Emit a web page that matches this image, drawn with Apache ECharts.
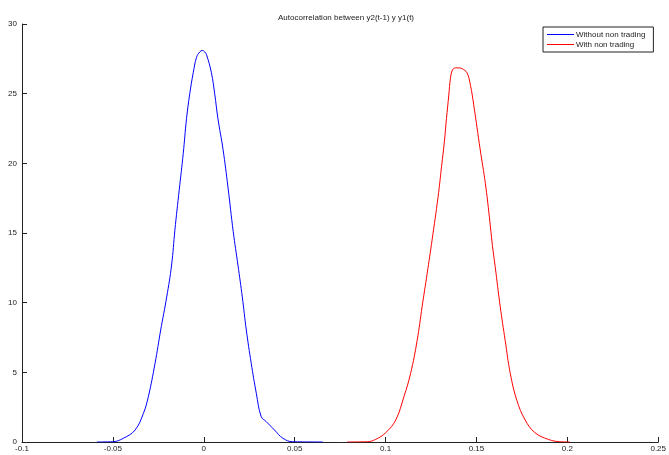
<!DOCTYPE html>
<html>
<head>
<meta charset="utf-8">
<script src="https://cdn.jsdelivr.net/npm/echarts@6/dist/echarts.min.js"></script>
<style>
html,body{margin:0;padding:0;background:#fff;}
#chart{width:669px;height:455px;}
</style>
</head>
<body>
<div id="chart"></div>
<script>
var titleText = 'Autocorrelation between y2(t-1) y y1(t)';
var seriesNames = ['Without non trading', 'With non trading'];
var seriesColors = ['#0000FF', '#FF0000'];

var blueX = [-0.0588, -0.05, -0.0442, -0.0378, -0.0332, -0.0305, -0.0268, -0.0237, -0.0204, -0.0177, -0.0159, -0.0135, -0.0113, -0.0095, -0.0077, -0.0058, -0.004, -0.0022, -0.0008, 0.0005, 0.0015, 0.0042, 0.006, 0.0078, 0.0106, 0.0133, 0.0162, 0.0188, 0.0212, 0.0234, 0.0261, 0.0289, 0.0316, 0.0344, 0.0389, 0.0435, 0.0489, 0.0654];
var blueY = [0, 0.02, 0.27, 0.86, 2.06, 3.25, 5.65, 8.04, 10.4, 12.7, 15.2, 18.1, 20.7, 23.2, 25.0, 26.5, 27.6, 28.0, 28.1, 28.0, 27.8, 26.5, 25.0, 23.2, 21.0, 18.3, 15.1, 12.7, 10.4, 8.04, 5.65, 3.5, 1.82, 1.46, 0.86, 0.27, 0.02, 0];

var redX = [0.079, 0.09, 0.0946, 0.1001, 0.1056, 0.1101, 0.1138, 0.1174, 0.1201, 0.1229, 0.1256, 0.1289, 0.1308, 0.1324, 0.1335, 0.1348, 0.1357, 0.1368, 0.1385, 0.1405, 0.142, 0.1448, 0.1467, 0.1485, 0.1521, 0.1549, 0.1571, 0.1588, 0.1603, 0.1631, 0.1658, 0.1686, 0.1722, 0.1768, 0.1822, 0.1895, 0.1959, 0.2014];
var redY = [0, 0.02, 0.19, 0.67, 1.58, 3.25, 4.93, 7.3, 9.7, 12.1, 14.5, 17.6, 19.76, 21.6, 23.2, 24.9, 26.1, 26.7, 26.85, 26.85, 26.8, 26.5, 25.6, 24.2, 20.96, 18.57, 16.17, 14.1, 12.6, 9.7, 7.3, 4.93, 3.0, 1.58, 0.67, 0.19, 0.02, 0];

function pairs(xs, ys) { return xs.map(function (x, i) { return [x, ys[i]]; }); }

var FONT = '"Liberation Sans", Arial, sans-serif';
var chart = echarts.init(document.getElementById('chart'), null, {renderer: 'canvas'});
chart.setOption({
  animation: false,
  backgroundColor: '#fff',
  title: {
    text: titleText,
    left: 341, top: 9, textAlign: 'center',
    textStyle: {fontFamily: FONT, fontSize: 8, fontWeight: 'normal', color: '#222'}
  },
  legend: {
    orient: 'vertical',
    left: 543, top: 27,
    width: 105,
    padding: [3, 8, 3, 4],
    itemGap: 1,
    icon: 'rect',
    itemWidth: 27, itemHeight: 1,
    borderColor: '#222', borderWidth: 1,
    backgroundColor: '#fff',
    textStyle: {fontFamily: FONT, fontSize: 8, color: '#222', padding: [0, 0, 0, -3], lineHeight: 9},
    data: seriesNames.map(function (n, i) {
      return {name: n, itemStyle: {color: seriesColors[i], borderWidth: 0}};
    })
  },
  grid: {left: 22, right: 9, top: 24, bottom: 13, containLabel: false},
  xAxis: {
    type: 'value', min: -0.1, max: 0.25, interval: 0.05,
    axisLine: {show: true, onZero: false, lineStyle: {color: '#222', width: 1}},
    axisTick: {show: true, inside: true, length: 5, lineStyle: {color: '#222'}},
    splitLine: {show: false},
    axisLabel: {
      fontFamily: FONT, fontSize: 8, color: '#222', margin: 3,
      formatter: function (v) { return String(parseFloat(v.toFixed(2))); }
    }
  },
  yAxis: {
    type: 'value', min: 0, max: 30, interval: 5,
    axisLine: {show: true, onZero: false, lineStyle: {color: '#222', width: 1}},
    axisTick: {show: true, inside: true, length: 5, lineStyle: {color: '#222'}},
    splitLine: {show: false},
    axisLabel: {fontFamily: FONT, fontSize: 8, color: '#222', margin: 5}
  },
  series: [
    {
      name: seriesNames[0], type: 'line', data: pairs(blueX, blueY),
      smooth: 0.4, showSymbol: false, symbol: 'none',
      lineStyle: {color: seriesColors[0], width: 1}, itemStyle: {color: seriesColors[0]}
    },
    {
      name: seriesNames[1], type: 'line', data: pairs(redX, redY),
      smooth: 0.4, showSymbol: false, symbol: 'none',
      lineStyle: {color: seriesColors[1], width: 1}, itemStyle: {color: seriesColors[1]}
    }
  ]
});
</script>
</body>
</html>
